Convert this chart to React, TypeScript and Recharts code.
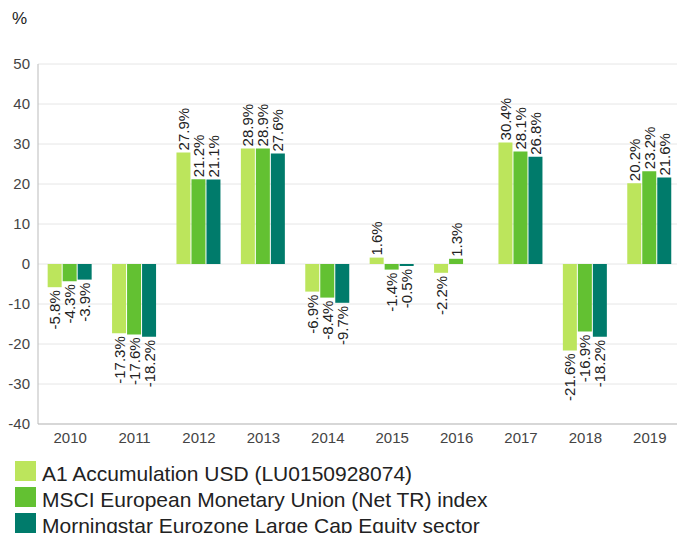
import React from "react"
import { BarChart, Bar, XAxis, YAxis, CartesianGrid, Legend, LabelList } from "recharts"

const YEARS = ["2010", "2011", "2012", "2013", "2014", "2015", "2016", "2017", "2018", "2019"]
const FUND = [-5.8, -17.3, 27.9, 28.9, -6.9, 1.6, -2.2, 30.4, -21.6, 20.2]
const INDEX = [-4.3, -17.6, 21.2, 28.9, -8.4, -1.4, 1.3, 28.1, -16.9, 23.2]
const SECTOR = [-3.9, -18.2, 21.1, 27.6, -9.7, -0.5, null, 26.8, -18.2, 21.6]
const Y_TICKS = [-40, -30, -20, -10, 0, 10, 20, 30, 40, 50]

const SERIES = [
  { key: "fund", name: "A1 Accumulation USD (LU0150928074)", color: "#bce55c" },
  { key: "index", name: "MSCI European Monetary Union (Net TR) index", color: "#63c132" },
  { key: "sector", name: "Morningstar Eurozone Large Cap Equity sector", color: "#007b6b" },
]

const data = YEARS.map((year, i) => ({
  year,
  fund: FUND[i],
  index: INDEX[i],
  sector: SECTOR[i],
}))

const FONT = '"Liberation Sans", Arial, sans-serif'

const renderLabel = (props: any) => {
  const { x, y, width, height, value } = props
  if (value === null || value === undefined) return null
  const top = Math.min(y, y + height)
  const bottom = Math.max(y, y + height)
  const px = x + width / 2 + 5.5
  const pos = value >= 0
  const py = pos ? top - 2 : bottom + 3
  return (
    <text
      x={px}
      y={py}
      transform={`rotate(-90 ${px} ${py})`}
      textAnchor={pos ? "start" : "end"}
      fontSize={15}
      fontFamily={FONT}
      fill="#222"
    >
      {Number(value).toFixed(1)}%
    </text>
  )
}

const renderLegend = (props: any) => {
  const items = props.payload || []
  return (
    <div style={{ height: 79, overflow: "hidden", paddingTop: 7, boxSizing: "border-box", fontFamily: FONT }}>
      {items.map((item: any) => (
        <div key={item.value} style={{ display: "flex", height: 26, alignItems: "flex-start" }}>
          <div style={{ width: 21, height: 20, background: item.color, marginLeft: 15, marginRight: 6 }} />
          <span style={{ fontSize: 21, lineHeight: "26px", color: "#222", whiteSpace: "nowrap" }}>
            {item.value}
          </span>
        </div>
      ))}
    </div>
  )
}

export default function App() {
  return (
    <div
      style={{
        position: "fixed",
        left: 0,
        top: 0,
        width: 677,
        height: 533,
        overflow: "hidden",
        background: "#fff",
        fontFamily: FONT,
      }}
    >
      <div style={{ position: "absolute", left: 12, top: 9, fontSize: 17, lineHeight: "20px", color: "#222" }}>%</div>
      <BarChart
        width={682}
        height={533}
        data={data}
        margin={{ top: 64, right: 0, left: 0, bottom: 0 }}
        barGap={1}
        barCategoryGap="15%"
      >
        <CartesianGrid vertical={false} stroke="#e6e6e6" />
        <XAxis
          dataKey="year"
          axisLine={{ stroke: "#bbb" }}
          tickLine={false}
          tick={{ fontSize: 15, fill: "#444", fontFamily: FONT }}
          height={30}
          interval={0}
        />
        <YAxis
          width={38}
          domain={[-40, 50]}
          ticks={Y_TICKS}
          interval={0}
          axisLine={{ stroke: "#bbb" }}
          tickLine={false}
          tick={{ fontSize: 15, fill: "#444", fontFamily: FONT }}
        />
        <Legend verticalAlign="bottom" align="left" content={renderLegend} />
        {SERIES.map((s) => (
          <Bar key={s.key} dataKey={s.key} name={s.name} fill={s.color} isAnimationActive={false}>
            <LabelList dataKey={s.key} content={renderLabel} />
          </Bar>
        ))}
      </BarChart>
    </div>
  )
}
